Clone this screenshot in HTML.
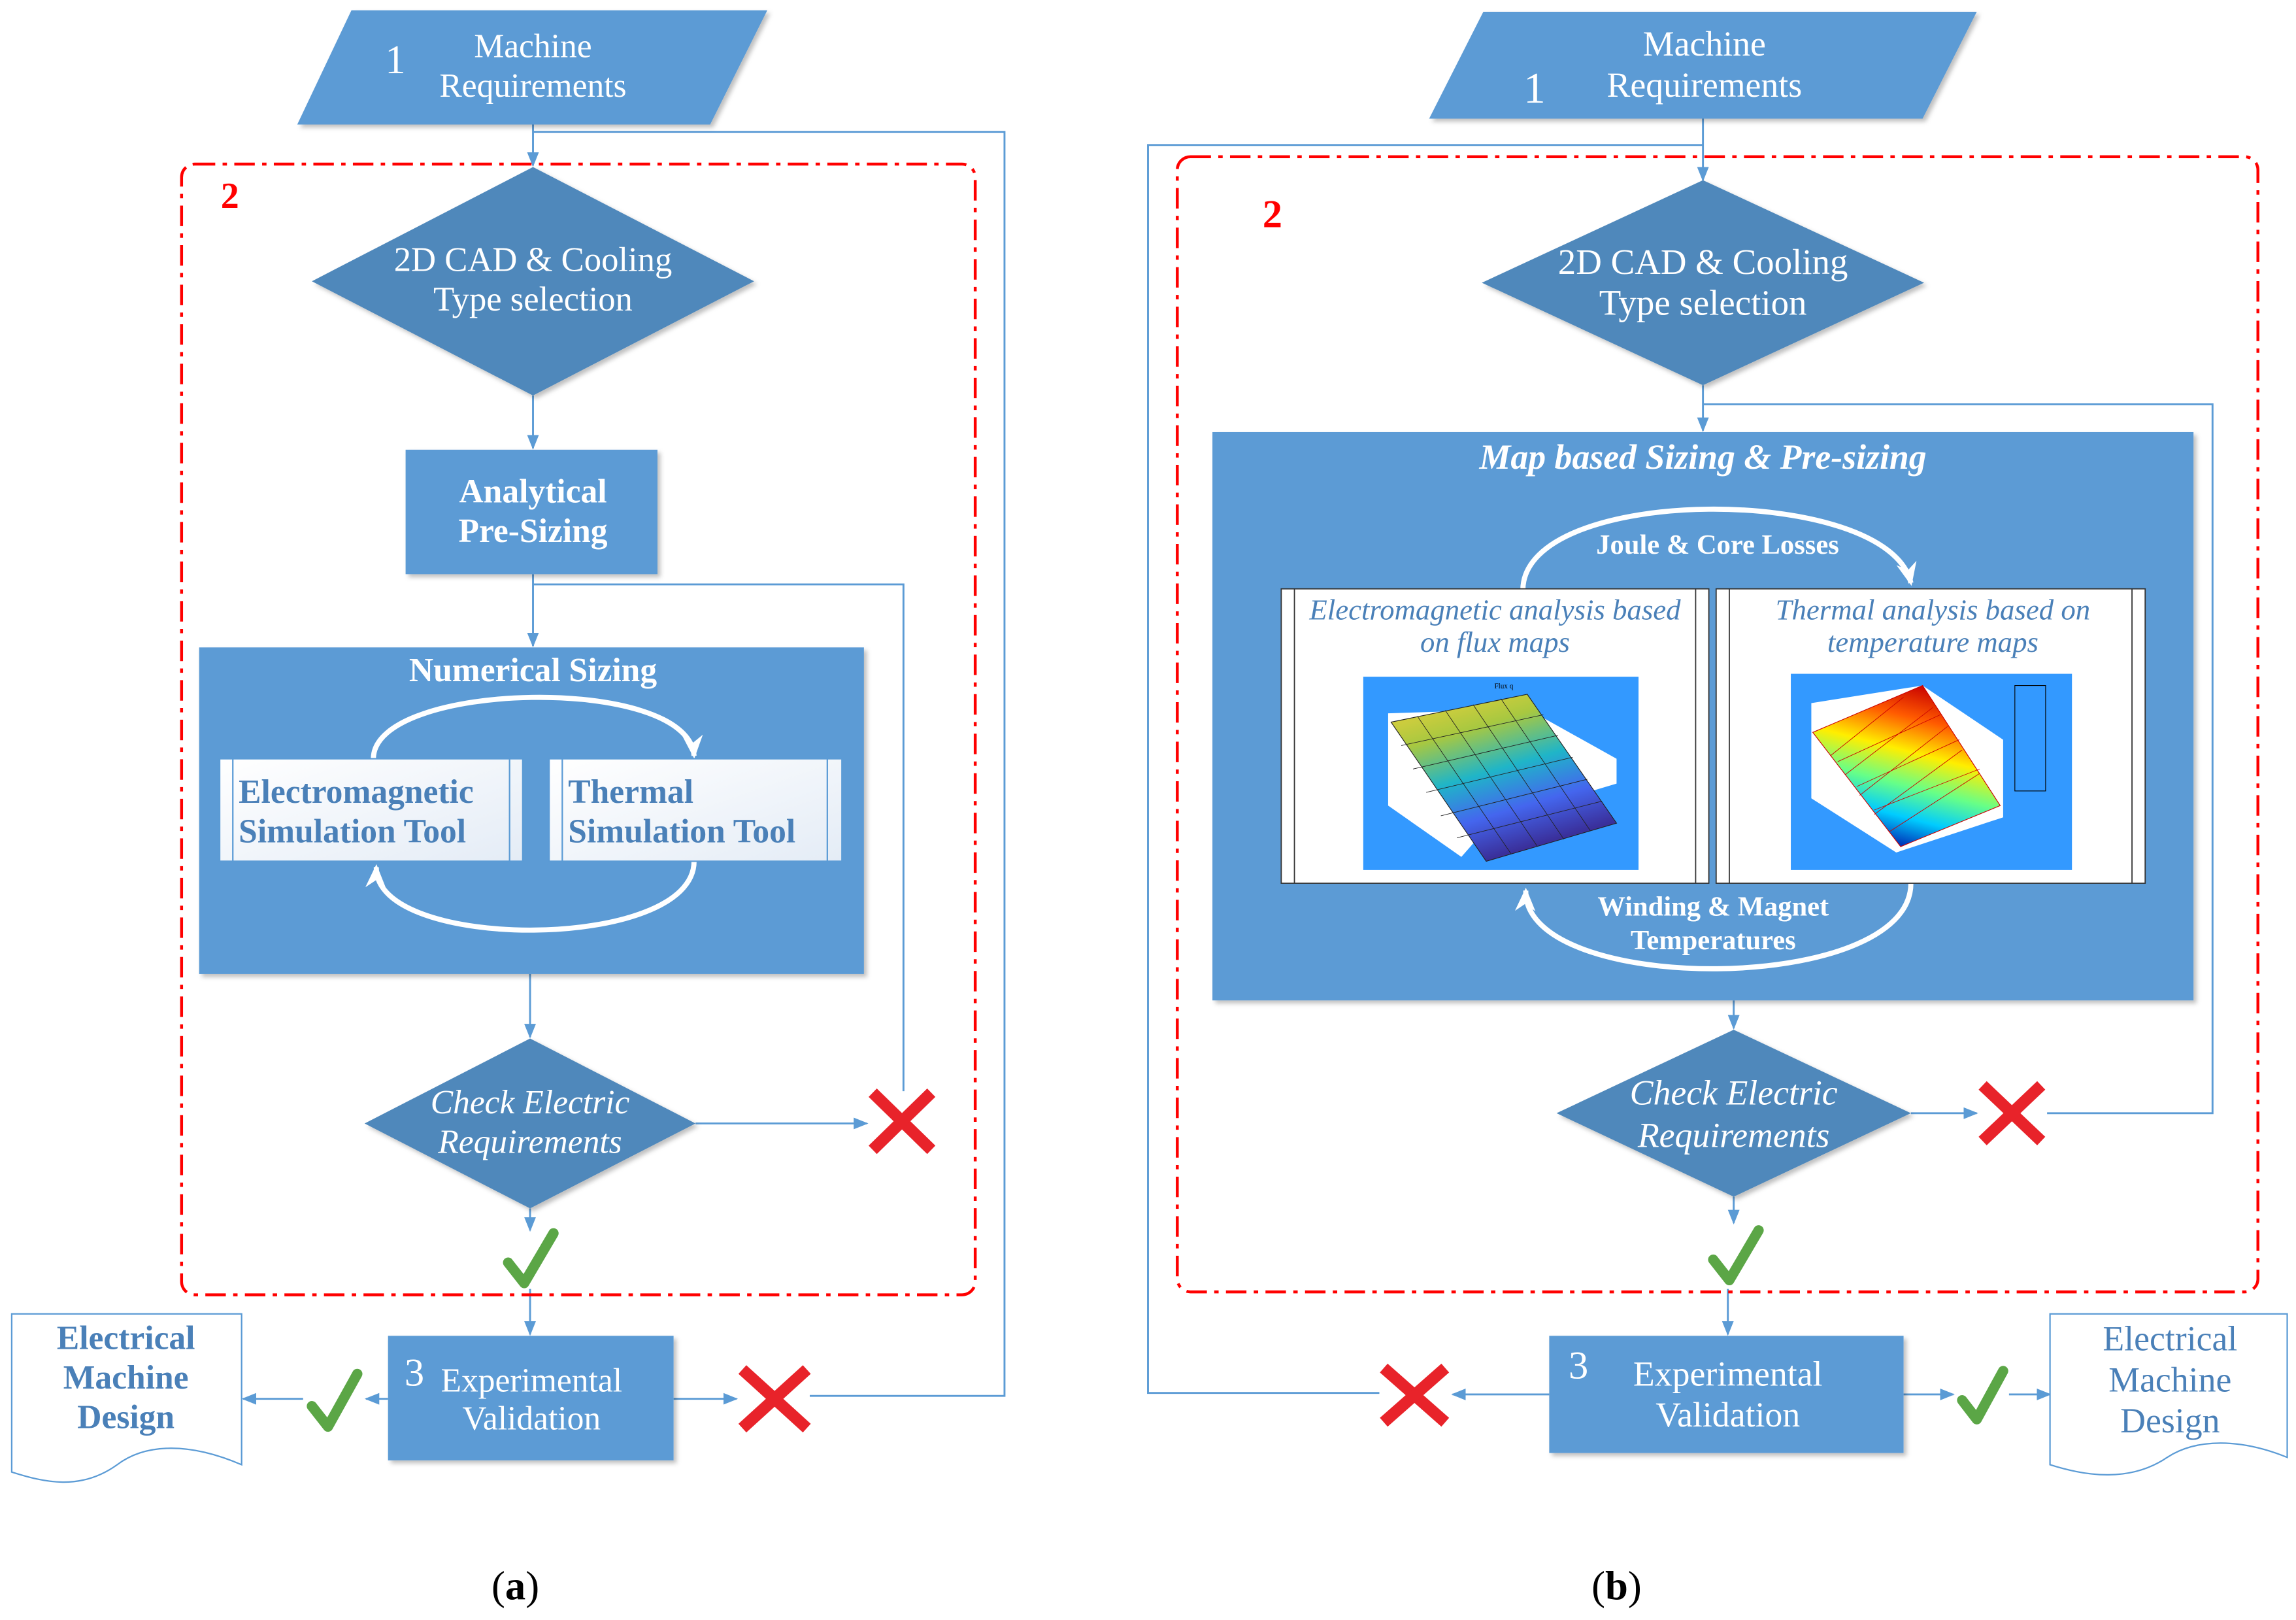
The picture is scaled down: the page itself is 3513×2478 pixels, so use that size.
<!DOCTYPE html>
<html><head><meta charset="utf-8"><style>
html,body{margin:0;padding:0;background:#fff;}
svg{display:block;}
text{font-family:"Liberation Serif",serif;}
</style></head><body>
<svg width="3513" height="2478" viewBox="0 0 1568 1106" xmlns="http://www.w3.org/2000/svg">
<defs>
<marker id="ar" markerWidth="10" markerHeight="10" refX="9" refY="5" orient="auto" markerUnits="userSpaceOnUse"><path d="M0,1 L10,5 L0,9 z" fill="#5b9bd5"/></marker>
<marker id="wa" markerWidth="18" markerHeight="18" refX="14" refY="9" orient="auto" markerUnits="userSpaceOnUse"><path d="M0,2 L16,9 L0,16 L5,9 z" fill="#fff"/></marker>
<linearGradient id="wg" x1="0" y1="0" x2="1" y2="1"><stop offset="0" stop-color="#fff"/><stop offset="1" stop-color="#e4ecf6"/></linearGradient>
<linearGradient id="fl" x1="0" y1="0" x2="0.4" y2="1"><stop offset="0" stop-color="#f6d23a"/><stop offset="0.3" stop-color="#a8c840"/><stop offset="0.55" stop-color="#1fb5c8"/><stop offset="0.78" stop-color="#4466ee"/><stop offset="1" stop-color="#3a2f9a"/></linearGradient>
<linearGradient id="th" x1="0.6" y1="0" x2="0.3" y2="1"><stop offset="0" stop-color="#c80000"/><stop offset="0.2" stop-color="#ff5a00"/><stop offset="0.4" stop-color="#ffee00"/><stop offset="0.6" stop-color="#66ff88"/><stop offset="0.78" stop-color="#00ccff"/><stop offset="1" stop-color="#0000a0"/></linearGradient>
<filter id="sh" x="-5%" y="-5%" width="115%" height="115%"><feDropShadow dx="2" dy="2" stdDeviation="1.5" flood-color="#000" flood-opacity="0.25"/></filter>
</defs>
<g fill="none" stroke="#5b9bd5" stroke-width="1.3">
<line x1="364" y1="85" x2="364" y2="113" marker-end="url(#ar)"/>
<polyline points="364,90 686,90 686,953 553,953"/>
<line x1="364" y1="270" x2="364" y2="306" marker-end="url(#ar)"/>
<line x1="364" y1="392" x2="364" y2="441" marker-end="url(#ar)"/>
<polyline points="364,399 617,399 617,745"/>
<line x1="362" y1="665" x2="362" y2="708" marker-end="url(#ar)"/>
<line x1="475" y1="767" x2="592" y2="767" marker-end="url(#ar)"/>
<line x1="362" y1="825" x2="362" y2="840" marker-end="url(#ar)"/>
<line x1="362" y1="880" x2="362" y2="911" marker-end="url(#ar)"/>
<line x1="460" y1="955" x2="503" y2="955" marker-end="url(#ar)"/>
<line x1="265" y1="955" x2="250" y2="955" marker-end="url(#ar)"/>
<line x1="207" y1="955" x2="166" y2="955" marker-end="url(#ar)"/>
<line x1="1163" y1="81" x2="1163" y2="123" marker-end="url(#ar)"/>
<polyline points="1163,99 784,99 784,951 942,951"/>
<line x1="1163" y1="263" x2="1163" y2="294" marker-end="url(#ar)"/>
<polyline points="1163,276 1511,276 1511,760 1398,760"/>
<line x1="1184" y1="683" x2="1184" y2="702" marker-end="url(#ar)"/>
<line x1="1305" y1="760" x2="1350" y2="760" marker-end="url(#ar)"/>
<line x1="1184" y1="817" x2="1184" y2="835" marker-end="url(#ar)"/>
<line x1="1180" y1="880" x2="1180" y2="911" marker-end="url(#ar)"/>
<line x1="1058" y1="952" x2="992" y2="952" marker-end="url(#ar)"/>
<line x1="1300" y1="952" x2="1334" y2="952" marker-end="url(#ar)"/>
<line x1="1372" y1="952" x2="1400" y2="952" marker-end="url(#ar)"/>
</g>
<rect x="124" y="112" width="542" height="772" rx="9" fill="none" stroke="#f00" stroke-width="2" stroke-dasharray="14,5,3,5"/>
<rect x="804" y="107" width="738" height="775" rx="9" fill="none" stroke="#f00" stroke-width="2" stroke-dasharray="14,5,3,5"/>
<text x="157" y="142" font-size="25" font-weight="bold" fill="#f00" text-anchor="middle">2</text>
<text x="869" y="155" font-size="27" font-weight="bold" fill="#f00" text-anchor="middle">2</text>

<polygon points="240,7 524,7 485,85 203,85" fill="#5b9bd5" filter="url(#sh)"/>
<text x="270" y="50" font-size="28" fill="#fff" text-anchor="middle">1</text>
<text x="364" y="39" font-size="23" fill="#fff" text-anchor="middle">Machine</text>
<text x="364" y="66" font-size="23" fill="#fff" text-anchor="middle">Requirements</text>

<polygon points="364,114 515,192 364,270 213,192" fill="#4f88bb" filter="url(#sh)"/>
<text x="364" y="185" font-size="23.5" fill="#fff" text-anchor="middle">2D CAD &amp; Cooling</text>
<text x="364" y="212" font-size="23.5" fill="#fff" text-anchor="middle">Type selection</text>

<rect x="277" y="307" width="172" height="85" fill="#5b9bd5" filter="url(#sh)"/>
<text x="364" y="343" font-size="23" font-weight="bold" fill="#fff" text-anchor="middle">Analytical</text>
<text x="364" y="370" font-size="23" font-weight="bold" fill="#fff" text-anchor="middle">Pre-Sizing</text>

<rect x="136" y="442" width="454" height="223" fill="#5b9bd5" filter="url(#sh)"/>
<text x="364" y="465" font-size="23" font-weight="bold" fill="#fff" text-anchor="middle">Numerical Sizing</text>
<path d="M255,518 C255,465 470,460 474,516" fill="none" stroke="#fff" stroke-width="3.5" marker-end="url(#wa)"/>
<path d="M474,588 C474,650 255,650 257,592" fill="none" stroke="#fff" stroke-width="3.5" marker-end="url(#wa)"/>
<g stroke="#5b9bd5" stroke-width="1">
<rect x="150" y="518" width="207" height="70" fill="url(#wg)"/>
<line x1="159" y1="518" x2="159" y2="588"/><line x1="348" y1="518" x2="348" y2="588"/>
<rect x="375" y="518" width="200" height="70" fill="url(#wg)"/>
<line x1="384" y1="518" x2="384" y2="588"/><line x1="565" y1="518" x2="565" y2="588"/>
</g>
<g font-size="23" font-weight="bold" fill="#4a80b8">
<text x="163" y="548">Electromagnetic</text><text x="163" y="575">Simulation Tool</text>
<text x="388" y="548">Thermal</text><text x="388" y="575">Simulation Tool</text>
</g>

<polygon points="362,709 475,767 362,825 249,767" fill="#4f88bb" filter="url(#sh)"/>
<text x="362" y="760" font-size="23" font-style="italic" fill="#fff" text-anchor="middle">Check Electric</text>
<text x="362" y="787" font-size="23" font-style="italic" fill="#fff" text-anchor="middle">Requirements</text>

<rect x="265" y="912" width="195" height="85" fill="#5b9bd5" filter="url(#sh)"/>
<text x="283" y="946" font-size="27" fill="#fff" text-anchor="middle">3</text>
<text x="363" y="950" font-size="23" fill="#fff" text-anchor="middle">Experimental</text>
<text x="363" y="976" font-size="23" fill="#fff" text-anchor="middle">Validation</text>

<path d="M8,897 L165,897 L165,1000 C130,985 100,985 80,1000 C55,1018 30,1012 8,1005 Z" fill="#fff" stroke="#5b9bd5" stroke-width="1"/>
<g font-size="23" font-weight="bold" fill="#4a80b8" text-anchor="middle">
<text x="86" y="921">Electrical</text><text x="86" y="948">Machine</text><text x="86" y="975">Design</text>
</g>

<g stroke="#e8232a" stroke-width="8">
<line x1="596" y1="746" x2="636" y2="785"/><line x1="636" y1="746" x2="596" y2="785"/>
<line x1="507" y1="935" x2="551" y2="975"/><line x1="551" y1="935" x2="507" y2="975"/>
</g>
<g fill="none" stroke="#5ba646" stroke-width="7" stroke-linecap="round" stroke-linejoin="round">
<path d="M347,862 L358,876 L378,842"/>
<path d="M213,960 L224,974 L244,938"/>
</g>

<polygon points="1013,8 1350,8 1313,81 976,81" fill="#5b9bd5" filter="url(#sh)"/>
<text x="1048" y="70" font-size="30" fill="#fff" text-anchor="middle">1</text>
<text x="1164" y="38" font-size="24" fill="#fff" text-anchor="middle">Machine</text>
<text x="1164" y="66" font-size="24" fill="#fff" text-anchor="middle">Requirements</text>

<polygon points="1163,123 1314,193 1163,263 1012,193" fill="#4f88bb" filter="url(#sh)"/>
<text x="1163" y="187" font-size="24.5" fill="#fff" text-anchor="middle">2D CAD &amp; Cooling</text>
<text x="1163" y="215" font-size="24.5" fill="#fff" text-anchor="middle">Type selection</text>

<rect x="828" y="295" width="670" height="388" fill="#5b9bd5" filter="url(#sh)"/>
<text x="1163" y="320" font-size="24" font-weight="bold" font-style="italic" fill="#fff" text-anchor="middle">Map based Sizing &amp; Pre-sizing</text>
<path d="M1040,403 C1040,330 1290,330 1305,398" fill="none" stroke="#fff" stroke-width="3.5" marker-end="url(#wa)"/>
<path d="M1305,603 C1305,680 1040,680 1042,608" fill="none" stroke="#fff" stroke-width="3.5" marker-end="url(#wa)"/>
<text x="1173" y="378" font-size="19" font-weight="bold" fill="#fff" text-anchor="middle">Joule &amp; Core Losses</text>
<text x="1170" y="625" font-size="19" font-weight="bold" fill="#fff" text-anchor="middle">Winding &amp; Magnet</text>
<text x="1170" y="648" font-size="19" font-weight="bold" fill="#fff" text-anchor="middle">Temperatures</text>

<g stroke="#333" stroke-width="0.8">
<rect x="875" y="402" width="292" height="201" fill="#fff"/>
<line x1="884" y1="402" x2="884" y2="603"/><line x1="1158" y1="402" x2="1158" y2="603"/>
<rect x="1172" y="402" width="293" height="201" fill="#fff"/>
<line x1="1181" y1="402" x2="1181" y2="603"/><line x1="1456" y1="402" x2="1456" y2="603"/>
</g>
<g font-size="20" font-style="italic" fill="#4a80b8" text-anchor="middle">
<text x="1021" y="423">Electromagnetic analysis based</text><text x="1021" y="445">on flux maps</text>
<text x="1320" y="423">Thermal analysis based on</text><text x="1320" y="445">temperature maps</text>
</g>
<rect x="931" y="462" width="188" height="132" fill="#3399ff"/>
<polygon points="948,487 948,550 998,585 1020,560 1104,535 1104,518 1043,484" fill="#fff"/>
<polygon points="950,493 1043,474 1104,562 1015,588" fill="url(#fl)" stroke="#222" stroke-width="0.5"/>
<g stroke="#222" stroke-width="0.4">
<line x1="968" y1="489" x2="1032" y2="583"/><line x1="987" y1="485" x2="1050" y2="578"/><line x1="1006" y1="481" x2="1068" y2="573"/><line x1="1025" y1="477" x2="1086" y2="567"/>
<line x1="957" y1="509" x2="1054" y2="488"/><line x1="965" y1="525" x2="1064" y2="502"/><line x1="974" y1="541" x2="1074" y2="517"/><line x1="984" y1="557" x2="1084" y2="532"/><line x1="995" y1="572" x2="1094" y2="547"/>
</g>
<text x="1027" y="470" font-size="5" fill="#000" text-anchor="middle">Flux q</text>
<rect x="1223" y="460" width="192" height="134" fill="#3399ff"/>
<polygon points="1237,480 1313,468 1368,505 1368,558 1295,582 1237,545" fill="#fff"/>
<polygon points="1313,468 1366,550 1298,578 1238,500" fill="url(#th)" stroke="#c00" stroke-width="0.5"/>
<g stroke="#c00" stroke-width="0.4">
<line x1="1300" y1="476" x2="1250" y2="516"/><line x1="1320" y1="483" x2="1260" y2="529"/><line x1="1330" y1="496" x2="1270" y2="543"/><line x1="1340" y1="512" x2="1280" y2="556"/><line x1="1352" y1="528" x2="1290" y2="568"/>
<line x1="1255" y1="520" x2="1325" y2="488"/><line x1="1268" y1="537" x2="1338" y2="505"/><line x1="1280" y1="553" x2="1352" y2="525"/>
</g>
<rect x="1376" y="468" width="21" height="72" fill="#3399ff" stroke="#000" stroke-width="0.5"/>

<polygon points="1184,703 1305,760 1184,817 1063,760" fill="#4f88bb" filter="url(#sh)"/>
<text x="1184" y="754" font-size="24" font-style="italic" fill="#fff" text-anchor="middle">Check Electric</text>
<text x="1184" y="783" font-size="24" font-style="italic" fill="#fff" text-anchor="middle">Requirements</text>

<rect x="1058" y="912" width="242" height="80" fill="#5b9bd5" filter="url(#sh)"/>
<text x="1078" y="941" font-size="27" fill="#fff" text-anchor="middle">3</text>
<text x="1180" y="946" font-size="24" fill="#fff" text-anchor="middle">Experimental</text>
<text x="1180" y="974" font-size="24" fill="#fff" text-anchor="middle">Validation</text>

<path d="M1400,897 L1562,897 L1562,995 C1530,982 1500,982 1480,995 C1455,1012 1425,1008 1400,1000 Z" fill="#fff" stroke="#5b9bd5" stroke-width="1"/>
<g font-size="24" fill="#4a80b8" text-anchor="middle">
<text x="1482" y="922">Electrical</text><text x="1482" y="950">Machine</text><text x="1482" y="978">Design</text>
</g>

<g stroke="#e8232a" stroke-width="8">
<line x1="1354" y1="741" x2="1394" y2="779"/><line x1="1394" y1="741" x2="1354" y2="779"/>
<line x1="945" y1="934" x2="987" y2="971"/><line x1="987" y1="934" x2="945" y2="971"/>
</g>
<g fill="none" stroke="#5ba646" stroke-width="7" stroke-linecap="round" stroke-linejoin="round">
<path d="M1170,860 L1181,874 L1201,840"/>
<path d="M1340,956 L1350,969 L1368,936"/>
</g>

<text x="352" y="1092" font-size="28" fill="#000" text-anchor="middle">(<tspan font-weight="bold">a</tspan>)</text>
<text x="1104" y="1092" font-size="28" fill="#000" text-anchor="middle">(<tspan font-weight="bold">b</tspan>)</text>
</svg>
</body></html>
